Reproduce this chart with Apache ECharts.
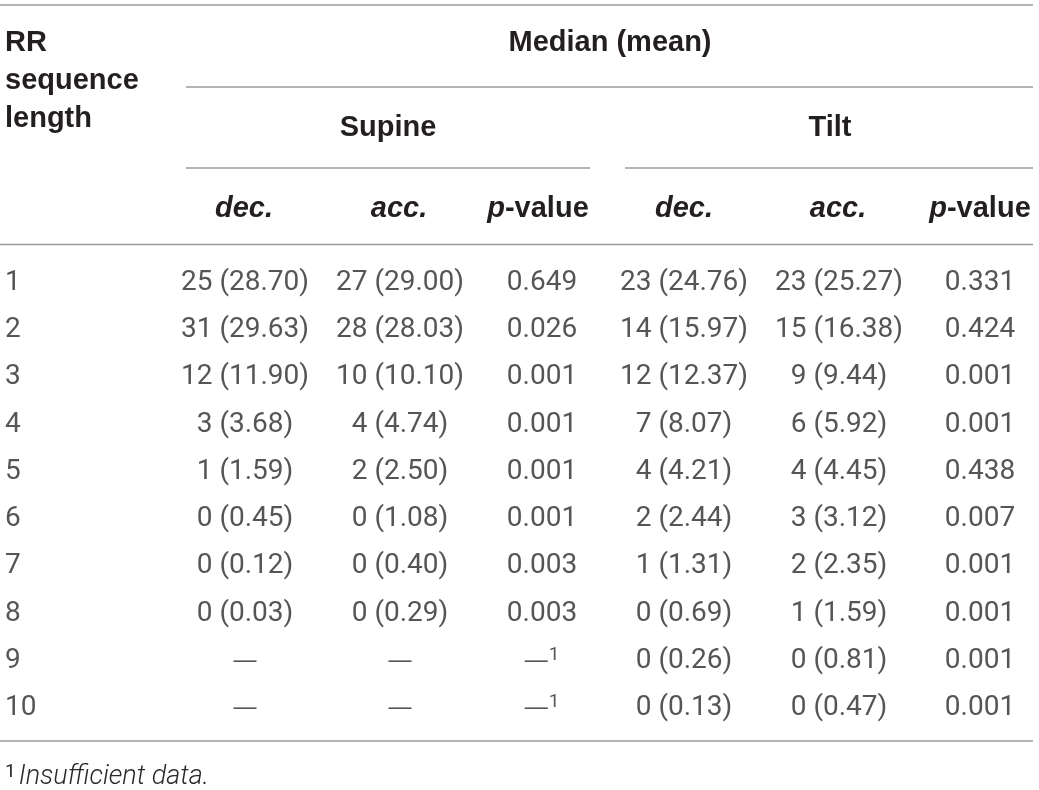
<!DOCTYPE html>
<html>
<head>
<meta charset="utf-8">
<script src="https://cdn.jsdelivr.net/npm/echarts@6/dist/echarts.min.js"></script>
<style>
  html, body { margin: 0; padding: 0; background: #fff; }
  #table { width: 1039px; height: 790px; }
</style>
</head>
<body>
<div id="table"></div>
<script>
let chart = echarts.init(document.getElementById('table'));

// data
let rowLabels = ['1', '2', '3', '4', '5', '6', '7', '8', '9', '10'];

let supineDecMedian = [25, 31, 12, 3, 1, 0, 0, 0, null, null];
let supineDecMean = [28.70, 29.63, 11.90, 3.68, 1.59, 0.45, 0.12, 0.03, null, null];
let supineAccMedian = [27, 28, 10, 4, 2, 0, 0, 0, null, null];
let supineAccMean = [29.00, 28.03, 10.10, 4.74, 2.50, 1.08, 0.40, 0.29, null, null];
let supineP = [0.649, 0.026, 0.001, 0.001, 0.001, 0.001, 0.003, 0.003, null, null];

let tiltDecMedian = [23, 14, 12, 7, 4, 2, 1, 0, 0, 0];
let tiltDecMean = [24.76, 15.97, 12.37, 8.07, 4.21, 2.44, 1.31, 0.69, 0.26, 0.13];
let tiltAccMedian = [23, 15, 9, 6, 4, 3, 2, 1, 0, 0];
let tiltAccMean = [25.27, 16.38, 9.44, 5.92, 4.45, 3.12, 2.35, 1.59, 0.81, 0.47];
let tiltP = [0.331, 0.424, 0.001, 0.001, 0.438, 0.007, 0.001, 0.001, 0.001, 0.001];

let footnote = 'Insufficient data.';

// layout
const W = 1039;
const colX = [5, 245, 400, 542, 684, 839, 980];
const lineColor = '#9b9b9b';
const textColor = '#231f20';
const bodyColor = '#2a2a2a';
const bodyFont = 'Roboto, "Liberation Sans", sans-serif';
const headFont = '"Liberation Sans", Arial, sans-serif';
const bodySize = 28;
const headSize = 29;

function medMean(med, mean) {
  return med.map((m, i) => m === null ? '{d|—}' : m + ' (' + mean[i].toFixed(2) + ')');
}

function pText(p) {
  return p.map(v => v === null ? '{d|—}{sup|1}' : v.toFixed(3));
}

function cellSeries(x, texts, align) {
  return {
    type: 'scatter',
    symbolSize: 1,
    itemStyle: { color: 'transparent' },
    silent: true,
    data: texts.map((t, i) => ({ value: [x, rowLabels[i]], text: t })),
    label: {
      show: true,
      position: 'inside',
      align: align || 'center',
      verticalAlign: 'middle',
      formatter: p => p.data.text,
      fontFamily: bodyFont,
      fontWeight: 'normal',
      fontSize: bodySize,
      color: bodyColor,
      rich: {
        d: { fontFamily: headFont, fontSize: 23, color: bodyColor, lineHeight: 30 },
        sup: { fontFamily: bodyFont, fontSize: 19, color: bodyColor, lineHeight: 30, verticalAlign: 'top', padding: [0, 0, 0, 1] }
      }
    }
  };
}

function hline(x1, x2, y) {
  return {
    type: 'line',
    shape: { x1: x1, y1: y, x2: x2, y2: y },
    style: { stroke: lineColor, lineWidth: 1.5 },
    silent: true
  };
}

function htext(x, y, text, align, rich) {
  return {
    type: 'text',
    x: x,
    y: y,
    style: {
      text: text,
      align: align,
      verticalAlign: 'middle',
      fontFamily: headFont,
      fontWeight: 'bold',
      fontSize: headSize,
      fill: textColor,
      rich: rich
    },
    silent: true
  };
}

let headRich = {
  i: { fontFamily: headFont, fontWeight: 'bold', fontStyle: 'italic', fontSize: headSize, fill: textColor },
  b: { fontFamily: headFont, fontWeight: 'bold', fontSize: headSize, fill: textColor }
};

let options = {
  animation: false,
  grid: { left: 0, right: 0, top: 259.4, bottom: 58.4 },
  xAxis: { type: 'value', min: 0, max: W, show: false },
  yAxis: { type: 'category', data: rowLabels, inverse: true, show: false },
  series: [
    cellSeries(colX[0], rowLabels, 'left'),
    cellSeries(colX[1], medMean(supineDecMedian, supineDecMean)),
    cellSeries(colX[2], medMean(supineAccMedian, supineAccMean)),
    cellSeries(colX[3], pText(supineP)),
    cellSeries(colX[4], medMean(tiltDecMedian, tiltDecMean)),
    cellSeries(colX[5], medMean(tiltAccMedian, tiltAccMean)),
    cellSeries(colX[6], pText(tiltP))
  ],
  graphic: [
    hline(0, 1033, 5),
    hline(186, 1033, 87),
    hline(186, 590, 168),
    hline(625, 1033, 168),
    hline(0, 1033, 244.5),
    hline(0, 1033, 741),

    htext(5, 43, 'RR', 'left'),
    htext(5, 81, 'sequence', 'left'),
    htext(5, 119, 'length', 'left'),
    htext(610, 43, 'Median (mean)', 'center'),
    htext(388, 128, 'Supine', 'center'),
    htext(830, 128, 'Tilt', 'center'),

    htext(244, 209, '{i|dec.}', 'center', headRich),
    htext(399, 209, '{i|acc.}', 'center', headRich),
    htext(538, 209, '{i|p}{b|-value}', 'center', headRich),
    htext(684, 209, '{i|dec.}', 'center', headRich),
    htext(838, 209, '{i|acc.}', 'center', headRich),
    htext(980, 209, '{i|p}{b|-value}', 'center', headRich),

    {
      type: 'text',
      x: 5,
      y: 777,
      silent: true,
      style: {
        text: '{s|1}{t|' + footnote + '}',
        align: 'left',
        verticalAlign: 'middle',
        rich: {
          s: { fontFamily: bodyFont, fontSize: 19, fill: bodyColor, lineHeight: 28, verticalAlign: 'top', padding: [0, 3, 0, 0] },
          t: { fontFamily: bodyFont, fontWeight: 300, fontStyle: 'italic', fontSize: 27, fill: bodyColor, lineHeight: 28 }
        }
      }
    }
  ]
};

chart.setOption(options);
</script>
</body>
</html>
